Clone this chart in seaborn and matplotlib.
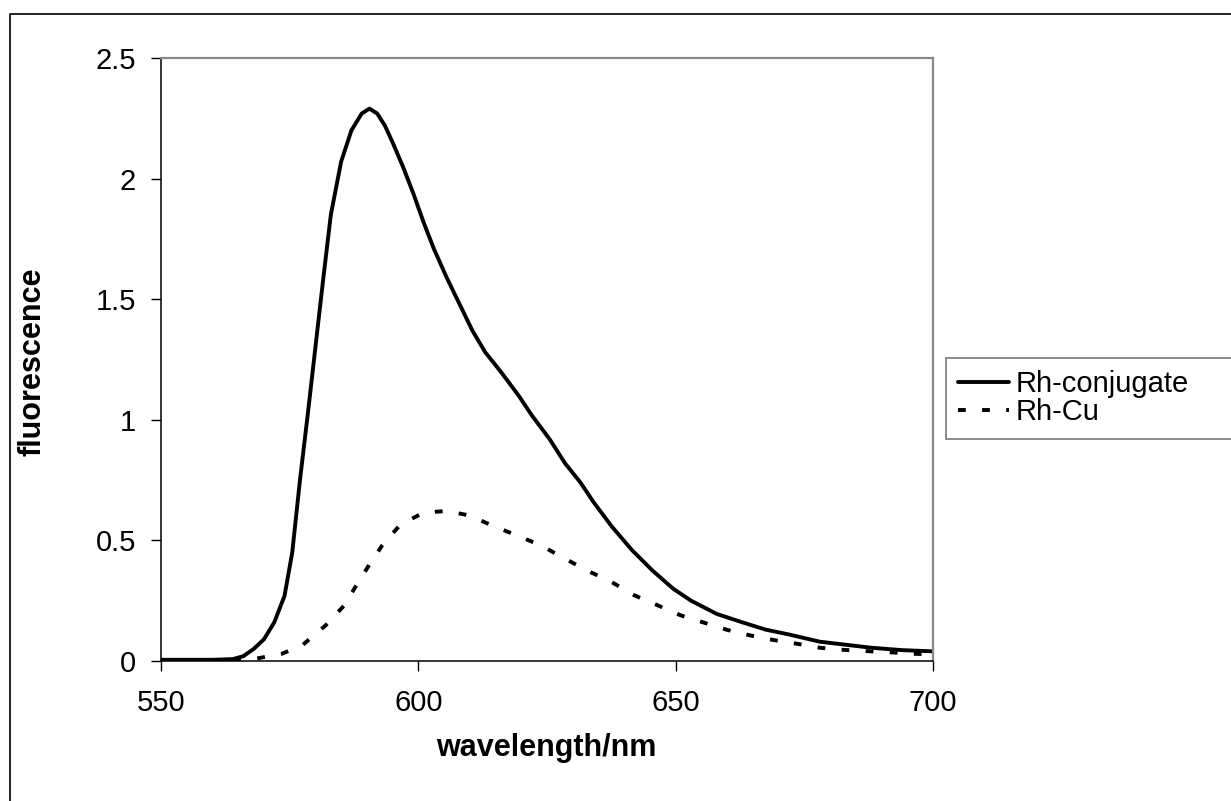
import pandas as pd
import seaborn as sns
import matplotlib.pyplot as plt
from matplotlib.lines import Line2D

# Rh-conjugate emission spectrum
conj_nm = [550, 555, 560, 564, 566, 568, 570, 572, 574, 575.5, 577, 578.5, 580, 581.5,
           583, 585, 587, 589, 590.5, 592, 593.5, 595, 597, 599, 601, 603, 605.5, 608,
           610.5, 613, 616, 619.5, 622, 625.5, 628.5, 631.5, 634, 637.5, 641.5, 645.5,
           649.5, 653, 658, 663, 667.5, 672, 678, 684, 688, 694, 700]
conj_val = [0.005, 0.005, 0.005, 0.008, 0.02, 0.05, 0.09, 0.16, 0.27, 0.45, 0.75, 1.02,
            1.30, 1.58, 1.85, 2.07, 2.20, 2.27, 2.29, 2.27, 2.22, 2.15, 2.05, 1.94, 1.82,
            1.71, 1.59, 1.48, 1.37, 1.28, 1.20, 1.10, 1.02, 0.92, 0.82, 0.74, 0.66, 0.56,
            0.46, 0.375, 0.30, 0.25, 0.195, 0.16, 0.13, 0.11, 0.08, 0.065, 0.055, 0.045,
            0.04]

# Rh-Cu emission spectrum
cu_nm = [550, 565, 569, 573.5, 577.5, 582, 585.5, 588, 590.5, 593, 596.5, 601, 605.5,
         610, 614.5, 619.5, 624, 628.5, 633, 637.5, 642, 646.5, 651, 655.5, 660, 664.5,
         669, 674, 678, 682, 687, 691, 696, 700]
cu_val = [0.0, 0.0, 0.012, 0.03, 0.066, 0.148, 0.228, 0.315, 0.40, 0.48, 0.565, 0.615,
          0.622, 0.603, 0.56, 0.518, 0.477, 0.424, 0.373, 0.328, 0.272, 0.231, 0.189,
          0.159, 0.129, 0.106, 0.087, 0.07, 0.055, 0.047, 0.041, 0.037, 0.03, 0.028]

x_ticks = [550, 600, 650, 700]
y_ticks = [0, 0.5, 1, 1.5, 2, 2.5]
y_labels = ["0", "0.5", "1", "1.5", "2", "2.5"]

df_conj = pd.DataFrame({"wavelength": conj_nm, "fluorescence": conj_val})
df_cu = pd.DataFrame({"wavelength": cu_nm, "fluorescence": cu_val})

sns.set_style("white")
plt.rcParams["font.family"] = ["Liberation Sans", "DejaVu Sans"]

W, H = 1231, 801
fig = plt.figure(figsize=(W / 100, H / 100), dpi=100)
ax = fig.add_axes([161 / W, 1 - 661 / H, (933 - 161) / W, (661 - 58) / H])

sns.lineplot(data=df_conj, x="wavelength", y="fluorescence", ax=ax, color="black",
             linewidth=2.8, label="Rh-conjugate")
sns.lineplot(data=df_cu, x="wavelength", y="fluorescence", ax=ax, color="black",
             linewidth=2.8, dashes=False, label="Rh-Cu")
ax.lines[1].set_dashes((2.0, 4.2))

ax.set_xlim(550, 700)
ax.set_ylim(0, 2.5)
ax.set_xticks(x_ticks)
ax.set_yticks(y_ticks)
ax.set_yticklabels(y_labels)
ax.tick_params(axis="both", direction="out", length=7, width=1, color="black",
               labelsize=21, labelcolor="black", bottom=True, left=True)
ax.tick_params(axis="x", pad=13)
ax.tick_params(axis="y", pad=11)

for side in ["left", "bottom"]:
    ax.spines[side].set_color("black")
    ax.spines[side].set_linewidth(1.1)
for side in ["top", "right"]:
    ax.spines[side].set_color("#8a8a8a")
    ax.spines[side].set_linewidth(1.6)

ax.set_xlabel("wavelength/nm", fontsize=22, fontweight="bold", color="black")
ax.set_ylabel("fluorescence", fontsize=22, fontweight="bold", color="black")
ax.xaxis.set_label_coords((546 - 161) / (933 - 161), -(733 - 661) / (661 - 58))
ax.yaxis.set_label_coords(-(161 - 48) / (933 - 161), (661 - 362) / (661 - 58))

ax.get_legend().remove()
leg = fig.legend(handles=ax.lines, labels=["Rh-conjugate", "Rh-Cu"],
                 loc="upper left", bbox_to_anchor=(946 / W, 1 - 437 / H, 320 / W, 79 / H),
                 mode="expand", fontsize=21, frameon=True, fancybox=False,
                 borderaxespad=0, handlelength=1.75, handletextpad=0.2,
                 labelspacing=0.0, borderpad=0.42)
for t in leg.get_texts():
    t.set_color("black")
leg.get_frame().set_edgecolor("#555555")
leg.get_frame().set_linewidth(1.2)

# outer chart-area border (left and top edges visible)
fig.add_artist(Line2D([10 / W, 10 / W, 1.2], [0, 1 - 14 / H, 1 - 14 / H],
                      transform=fig.transFigure, color="#222222", linewidth=1.4))

fig.savefig("out.png", dpi=100)
